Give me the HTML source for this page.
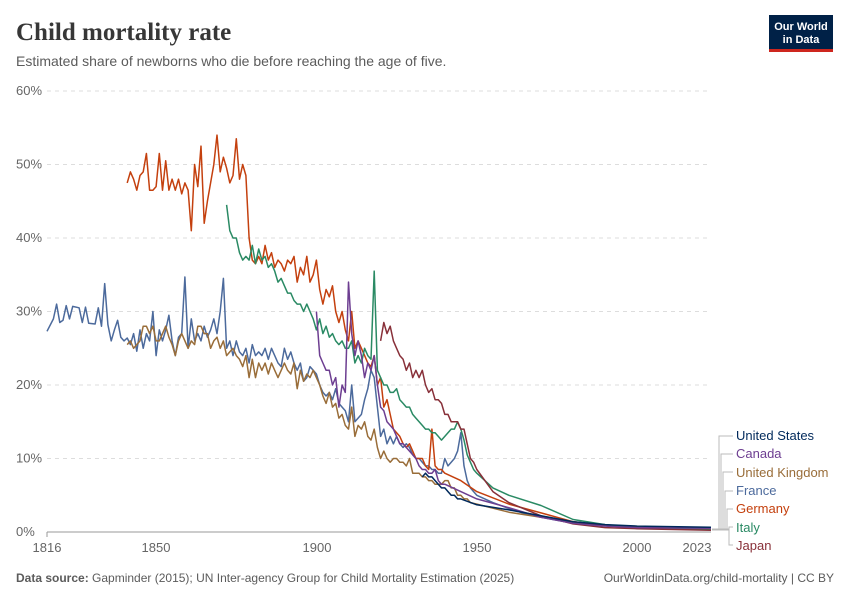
<!DOCTYPE html>
<html><head><meta charset="utf-8"><style>
body{margin:0;background:#fff;width:850px;height:600px;overflow:hidden;font-family:"Liberation Sans",sans-serif}
</style></head><body>
<svg id="s" width="850" height="600" xmlns="http://www.w3.org/2000/svg" font-family="Liberation Sans, sans-serif">
<text x="16" y="40" font-family="Liberation Serif, serif" font-size="25" font-weight="bold" fill="#373737">Child mortality rate</text>
<text x="16" y="66" font-size="14" fill="#5b5b5b">Estimated share of newborns who die before reaching the age of five.</text>
<rect x="769" y="15" width="64" height="34" fill="#002147"/>
<rect x="769" y="49" width="64" height="3" fill="#ce261e"/>
<text x="801" y="30" font-size="11" font-weight="bold" fill="#fff" text-anchor="middle">Our World</text>
<text x="801" y="43" font-size="11" font-weight="bold" fill="#fff" text-anchor="middle">in Data</text>
<g id="grid" stroke="#ddd" stroke-dasharray="4,4"></g>
<g id="yl" font-size="13" fill="#666"></g>
<line x1="47" y1="532" x2="711" y2="532" stroke="#999"/>
<g font-size="13" fill="#666" text-anchor="middle">
<line x1="47" y1="532" x2="47" y2="537" stroke="#999"/>
<text x="47" y="552">1816</text><text x="156" y="552">1850</text><text x="317" y="552">1900</text><text x="477" y="552">1950</text><text x="637" y="552">2000</text><text x="697" y="552">2023</text></g>
<g id="lines" fill="none" stroke-width="1.5"></g>
<g fill="none" stroke="#bbb" stroke-width="1">
<path d="M712 529 H719 V436 H733"/><path d="M712 529 H721 V454 H733"/><path d="M712 529 H723 V472 H733"/><path d="M712 529 H725 V491 H733"/><path d="M712 529 H727 V509 H733"/><path d="M712 529 H729 V527 H733"/><path d="M712 530 H729 V545 H733"/></g>
<g font-size="13">
<text x="736" y="440" fill="#00295b">United States</text>
<text x="736" y="458" fill="#6d3e91">Canada</text>
<text x="736" y="477" fill="#996d39">United Kingdom</text>
<text x="736" y="495" fill="#4c6a9c">France</text>
<text x="736" y="513" fill="#c4400e">Germany</text>
<text x="736" y="532" fill="#2a8a64">Italy</text>
<text x="736" y="550" fill="#883039">Japan</text></g>
<text x="16" y="582" font-size="12" fill="#5b5b5b"><tspan font-weight="bold">Data source:</tspan> Gapminder (2015); UN Inter-agency Group for Child Mortality Estimation (2025)</text>
<text x="834" y="582" font-size="12" fill="#5b5b5b" text-anchor="end">OurWorldinData.org/child-mortality | CC BY</text>
</svg>
<script>
var NS="http://www.w3.org/2000/svg";
function X(y){return 47+(y-1816)*3.2077}function Y(v){return 532-v*7.35}
var g=document.getElementById('grid'),yl=document.getElementById('yl');
for(var i=1;i<=6;i++){var l=document.createElementNS(NS,'line');l.setAttribute('x1',47);l.setAttribute('x2',711);l.setAttribute('y1',Y(i*10));l.setAttribute('y2',Y(i*10));g.appendChild(l);}
for(var i=0;i<=6;i++){var t=document.createElementNS(NS,'text');t.setAttribute('x',16);t.setAttribute('y',Y(i*10)+4);t.textContent=i*10+'%';yl.appendChild(t);}
var D={
"#4c6a9c":"1816:27.3,1818:29,1819:31,1820:28.5,1821:28.8,1822:30.8,1823:29,1824:30.7,1826:30.5,1827:28.5,1828:30.6,1829:28.4,1831:28.3,1832:30.5,1833:28,1834:33.8,1835:28.2,1836:26,1837:27.5,1838:28.8,1839:26.5,1840:26,1841:26.4,1842:25.5,1843:27,1844:24.6,1845:27.5,1846:25,1847:27,1848:26,1849:30,1850:24,1851:27.5,1852:26,1853:27.5,1854:29.5,1855:26,1856:24,1857:26.5,1858:27,1859:34.7,1860:25,1861:29,1862:26,1863:27,1864:26,1865:28,1866:26.5,1867:27.5,1868:29,1869:27,1870:30,1871:34.5,1872:25,1873:26,1874:24,1875:26,1876:24.5,1877:24,1878:25,1879:23,1880:25.5,1881:24,1882:24.5,1883:24,1884:25,1885:23.5,1886:25,1887:24,1888:23,1889:22.5,1890:25,1891:23.5,1892:24.5,1893:23,1894:22,1895:23,1896:20.5,1897:21,1898:22.5,1899:22,1900:21.5,1901:20,1902:19,1903:18.5,1904:19,1905:18,1906:19.5,1907:17.5,1908:17,1909:16.5,1910:15,1911:20,1912:15,1913:15.5,1914:16,1915:18,1916:19.5,1917:22,1918:21,1919:17,1920:13,1921:14,1922:12,1923:13,1924:12,1925:13,1926:12,1927:11.5,1928:12,1929:11.5,1930:10.5,1931:10,1932:10,1933:9.5,1934:9,1935:9,1936:8.5,1937:8.5,1938:8,1939:8,1940:10,1941:9,1942:9.5,1943:10,1944:11,1945:13.5,1946:9,1947:7,1948:6,1949:5.5,1950:5,1955:4,1960:3.2,1965:2.5,1970:2,1975:1.6,1980:1.2,1990:0.9,2000:0.5,2010:0.45,2023:0.4",
"#996d39":"1841:25.5,1842:26,1843:25,1845:26,1846:28,1847:28,1848:27,1849:28,1850:26,1851:26,1852:27,1853:28,1854:26.5,1855:25.5,1856:24,1857:26,1858:27,1859:26,1860:25,1861:26,1862:25.5,1863:28,1864:28,1865:27,1866:27,1867:25,1868:26,1869:26.5,1870:25,1871:26,1872:24,1873:24.5,1874:25,1875:24,1876:23.5,1877:22.5,1878:24,1879:21,1880:23.5,1881:21,1882:23,1883:22,1884:23,1885:21.5,1886:23,1887:22,1888:21,1889:22,1890:23,1891:22,1892:21.5,1893:23,1894:19.5,1895:22,1896:20.5,1897:21.5,1898:21,1899:22,1900:21,1901:20,1902:18.5,1903:17.5,1904:19,1905:17,1906:17.5,1907:15.5,1908:16,1909:14.5,1910:14,1911:17,1912:13,1913:14.5,1914:14,1915:15,1916:13,1917:12.5,1918:14,1919:11.5,1920:10,1921:11,1922:10,1923:9.5,1924:10,1925:10,1926:9.5,1927:9.5,1928:9,1929:10,1930:8,1931:8,1932:8,1933:7.5,1934:7.5,1935:7,1936:7,1937:6.5,1938:6.5,1939:6.5,1940:7,1941:7,1942:6,1943:6,1944:5,1945:5,1946:4.5,1947:4.5,1948:4,1950:3.8,1960:2.7,1970:2,1980:1.4,1990:0.9,2000:0.65,2010:0.5,2023:0.45",
"#c4400e":"1841:47.5,1842:49,1843:48,1844:46.5,1845:48.5,1846:49,1847:51.5,1848:46.5,1849:46.5,1850:47,1851:51.5,1852:46.5,1853:50.5,1854:46.5,1855:48,1856:46.5,1857:48,1858:46,1859:47.5,1860:46.5,1861:41,1862:50,1863:47,1864:52.5,1865:42,1866:45,1867:47.5,1868:50,1869:54,1870:49,1871:51,1872:49.5,1873:47.5,1874:48.5,1875:53.5,1876:48,1877:50,1878:48.5,1879:40,1880:37,1881:36.5,1882:37.5,1883:36.5,1884:39,1885:37,1886:38,1887:36,1888:37,1889:36.5,1890:35.5,1891:37,1892:36.5,1893:37.5,1894:34,1895:36,1896:35,1897:37.5,1898:34,1899:35,1900:37,1901:33,1902:31,1903:33,1904:32,1905:33.5,1906:30,1907:28.5,1908:30,1909:27.5,1910:26,1911:30,1912:25,1913:26,1914:25,1915:24,1916:23,1917:22.5,1918:24,1919:20,1920:21,1921:17,1922:18,1923:16,1924:14,1925:13.5,1926:13,1927:12,1928:11.5,1929:12,1930:11,1931:10,1932:10,1933:10,1934:9,1935:8.5,1936:14,1937:9,1938:8.5,1939:8.5,1940:8,1945:7,1950:5.5,1960:3.8,1970:2.6,1980:1.4,1990:0.9,2000:0.55,2010:0.45,2023:0.4",
"#2a8a64":"1872:44.5,1873:41,1874:40,1875:40,1876:38,1877:37,1878:37.5,1879:37,1880:39,1881:36.5,1882:38.5,1883:37,1884:37.5,1885:36,1886:36.5,1887:35.5,1888:34,1889:34.5,1890:33.5,1891:32.5,1892:32.5,1893:31.5,1894:31,1895:31,1896:30,1897:31,1898:30,1899:29,1900:27.5,1901:29,1902:27,1903:28,1904:26.5,1905:27,1906:26,1907:25.5,1908:26,1909:25,1910:25,1911:26,1912:23,1913:24,1914:23,1915:25,1916:24,1917:23.5,1918:35.5,1919:22,1920:21,1921:20,1922:20,1923:19,1924:19,1925:19.5,1926:18,1927:17.5,1928:17,1929:17,1930:16,1931:15.5,1932:15,1933:14.5,1934:14,1935:14,1936:13.5,1937:13.5,1938:13,1939:12.5,1940:13,1941:13.5,1942:14,1943:14,1944:15,1945:14,1946:12.5,1947:10.5,1948:9.5,1949:8.5,1950:8,1955:6,1960:5,1970:3.6,1980:1.7,1990:1,2000:0.55,2010:0.4,2023:0.35",
"#883039":"1920:26,1921:28.5,1922:27,1923:28,1924:26,1925:25,1926:24,1927:23.5,1928:22,1929:23,1930:21,1931:22,1932:21,1933:22,1934:20,1935:19,1936:19.5,1937:18,1938:18,1939:17.5,1940:16,1941:16,1942:15,1943:15,1944:15,1945:14,1946:14,1947:12,1948:10,1949:9.5,1950:8.5,1955:5.5,1960:4,1970:2.2,1980:1.1,1990:0.6,2000:0.45,2023:0.25",
"#6d3e91":"1900:30,1901:24,1902:23,1903:22,1904:22,1905:20,1906:21,1907:17,1908:20,1909:19,1910:34,1911:27,1912:24,1913:26,1914:24,1915:21,1916:23,1917:22,1918:24,1919:20,1920:17,1921:16.5,1922:15,1923:14.5,1924:14,1925:13,1926:12,1927:12,1928:11.5,1929:11,1930:10.5,1931:10,1932:9,1933:8.5,1934:8.5,1935:8,1936:8,1937:8.5,1938:7,1939:6.5,1940:6.5,1945:5.5,1950:4.5,1960:3.3,1970:2,1980:1.2,1990:0.8,2000:0.6,2023:0.5",
"#00295b":"1933:7.5,1934:8,1935:7.5,1936:7.5,1937:7,1938:6.5,1939:6,1940:6,1941:5.5,1942:5,1943:5,1944:4.5,1945:4.5,1950:3.7,1960:3,1970:2.2,1980:1.4,1990:1,2000:0.8,2023:0.65"};
var L=document.getElementById('lines');
for(var c in D){var pts=D[c].split(',').map(function(p){var a=p.split(':');return X(+a[0]).toFixed(1)+','+Y(+a[1]).toFixed(1)});
var pl=document.createElementNS(NS,'polyline');pl.setAttribute('points',pts.join(' '));pl.setAttribute('stroke',c);pl.setAttribute('stroke-linejoin','round');L.appendChild(pl);}
</script>
</body></html>
